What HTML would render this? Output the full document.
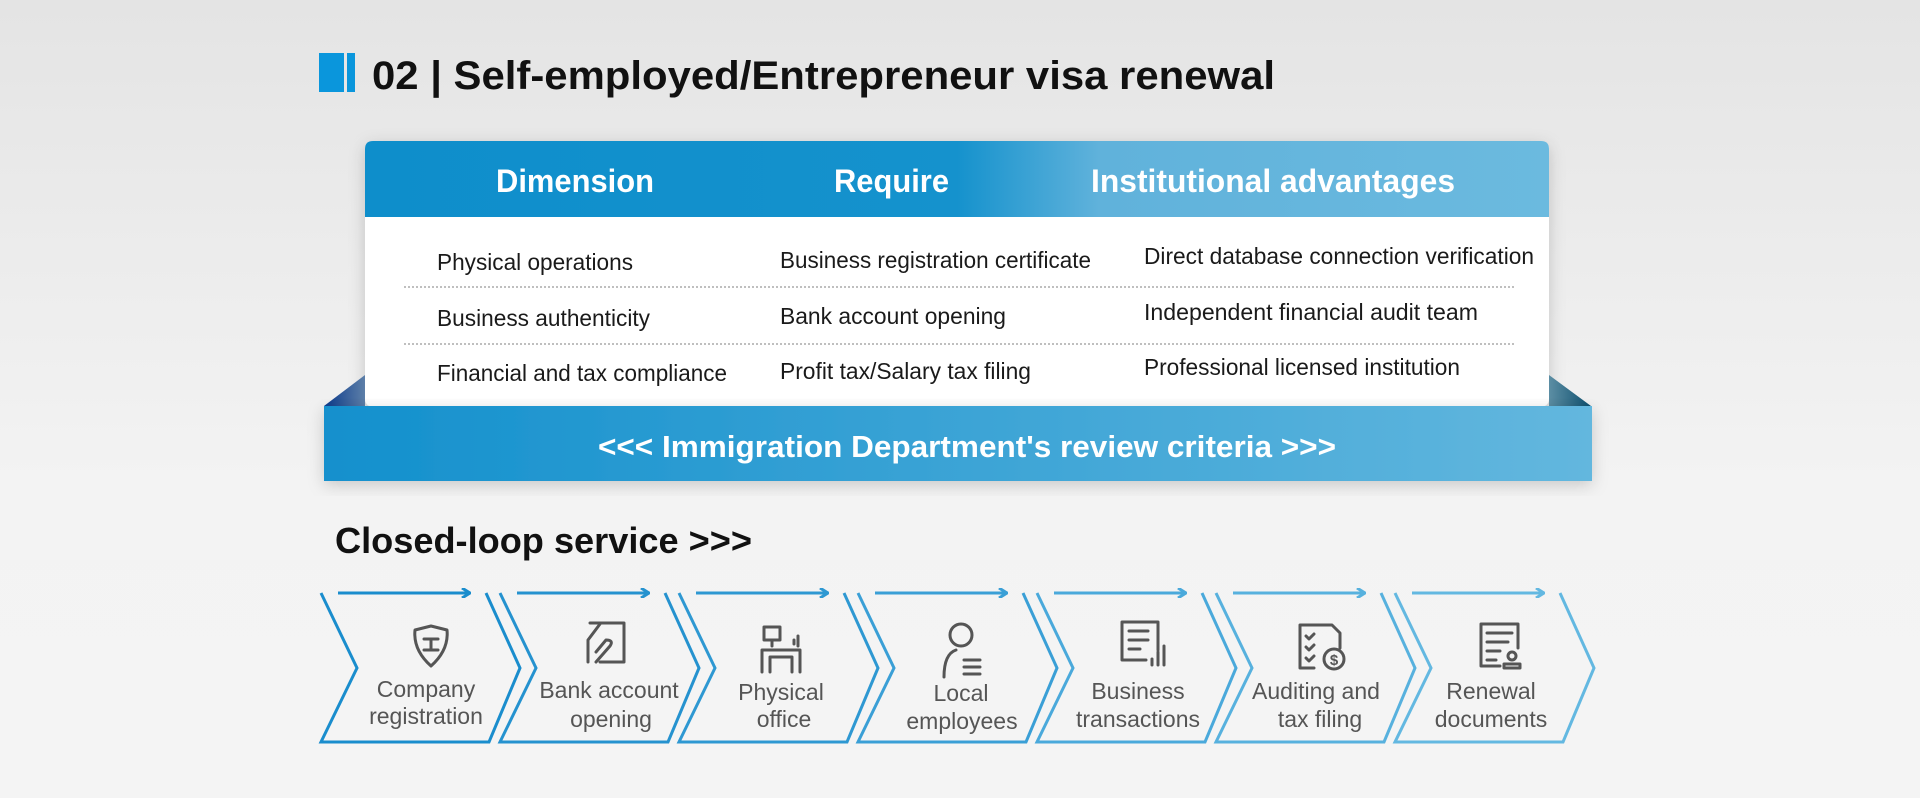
<!DOCTYPE html>
<html><head><meta charset="utf-8"><style>
html,body{margin:0;padding:0}
body{width:1920px;height:798px;overflow:hidden;background:linear-gradient(#e4e4e4,#f3f3f3 60%,#f4f4f4)}
svg{display:block}
text{font-family:"Liberation Sans",sans-serif}
</style></head><body>
<svg width="1920" height="798" viewBox="0 0 1920 798" xmlns="http://www.w3.org/2000/svg">
<defs>
<linearGradient id="hg" x1="0" x2="1" y1="0" y2="0">
<stop offset="0" stop-color="#0e8ecb"/><stop offset="0.5" stop-color="#1592cd"/><stop offset="0.62" stop-color="#60b2db"/><stop offset="1" stop-color="#6bbadf"/>
</linearGradient>
<linearGradient id="bg" x1="0" x2="1"><stop offset="0" stop-color="#1390cd"/><stop offset="1" stop-color="#63b7de"/></linearGradient>
<linearGradient id="tl" x1="0" x2="1"><stop offset="0" stop-color="#0a3a8c"/><stop offset="1" stop-color="#5d7fa8"/></linearGradient>
<linearGradient id="tr" x1="1" x2="0"><stop offset="0" stop-color="#0d4f6e"/><stop offset="1" stop-color="#5c8ea4"/></linearGradient>
<filter id="sh" x="-5%" y="-10%" width="110%" height="130%"><feDropShadow dx="0" dy="4" stdDeviation="8" flood-color="#000" flood-opacity="0.18"/></filter>
<marker id="ah" markerWidth="10" markerHeight="10" refX="8" refY="5" orient="auto" markerUnits="userSpaceOnUse"><path d="M1,0 L9,5 L1,10" fill="none" stroke="context-stroke" stroke-width="3"/></marker>
</defs>

<!-- Title -->
<rect x="319" y="53" width="25" height="39" fill="#0a96dc"/>
<rect x="347" y="53" width="8" height="39" fill="#0a96dc"/>
<text x="372" y="89" font-size="40" font-weight="bold" fill="#111" textLength="903" lengthAdjust="spacingAndGlyphs">02 | Self-employed/Entrepreneur visa renewal</text>

<!-- Table card -->
<g filter="url(#sh)">
<rect x="365" y="141" width="1184" height="266" rx="8" fill="#fff"/>
</g>
<path d="M373,141 H1541 Q1549,141 1549,149 V217 H365 V149 Q365,141 373,141Z" fill="url(#hg)"/>
<text x="496" y="192" font-size="32" font-weight="bold" fill="#fff" textLength="158" lengthAdjust="spacingAndGlyphs">Dimension</text>
<text x="834" y="192" font-size="32" font-weight="bold" fill="#fff" textLength="115" lengthAdjust="spacingAndGlyphs">Require</text>
<text x="1091" y="192" font-size="32" font-weight="bold" fill="#fff" textLength="364" lengthAdjust="spacingAndGlyphs">Institutional advantages</text>

<g font-size="23" fill="#1a1a1a">
<text x="437" y="270" textLength="196" lengthAdjust="spacingAndGlyphs">Physical operations</text>
<text x="780" y="268" textLength="311" lengthAdjust="spacingAndGlyphs">Business registration certificate</text>
<text x="1144" y="264" textLength="390" lengthAdjust="spacingAndGlyphs">Direct database connection verification</text>
<text x="437" y="326" textLength="213" lengthAdjust="spacingAndGlyphs">Business authenticity</text>
<text x="780" y="324" textLength="226" lengthAdjust="spacingAndGlyphs">Bank account opening</text>
<text x="1144" y="320" textLength="334" lengthAdjust="spacingAndGlyphs">Independent financial audit team</text>
<text x="437" y="381" textLength="290" lengthAdjust="spacingAndGlyphs">Financial and tax compliance</text>
<text x="780" y="379" textLength="251" lengthAdjust="spacingAndGlyphs">Profit tax/Salary tax filing</text>
<text x="1144" y="375" textLength="316" lengthAdjust="spacingAndGlyphs">Professional licensed institution</text>
</g>
<line x1="404" y1="287" x2="1516" y2="287" stroke="#999" stroke-width="1.2" stroke-dasharray="2,2"/>
<line x1="404" y1="344" x2="1516" y2="344" stroke="#999" stroke-width="1.2" stroke-dasharray="2,2"/>

<!-- Banner -->
<path d="M324,406 L365,375 L365,406Z" fill="url(#tl)"/>
<path d="M1591,406 L1549,375 L1549,406Z" fill="url(#tr)"/>
<g filter="url(#sh)"><rect x="324" y="406" width="1268" height="75" fill="url(#bg)"/></g>
<text x="598" y="457" font-size="31" font-weight="bold" fill="#fff" textLength="738" lengthAdjust="spacingAndGlyphs">&lt;&lt;&lt; Immigration Department's review criteria &gt;&gt;&gt;</text>

<!-- Closed loop -->
<text x="335" y="553" font-size="36" font-weight="bold" fill="#111" textLength="417" lengthAdjust="spacingAndGlyphs">Closed-loop service &gt;&gt;&gt;</text>

<g fill="none" stroke-width="3" stroke-linejoin="miter">
<g stroke="#1a8dcd"><path d="M321,593 L357,668 L321,742 H489 L520,668 L486,593"/><line x1="338" y1="593" x2="469" y2="593" marker-end="url(#ah)"/></g>
<g stroke="#2592cf" transform="translate(179,0)"><path d="M321,593 L357,668 L321,742 H489 L520,668 L486,593"/><line x1="338" y1="593" x2="469" y2="593" marker-end="url(#ah)"/></g>
<g stroke="#2e98d2" transform="translate(358,0)"><path d="M321,593 L357,668 L321,742 H489 L520,668 L486,593"/><line x1="338" y1="593" x2="469" y2="593" marker-end="url(#ah)"/></g>
<g stroke="#3a9fd6" transform="translate(537,0)"><path d="M321,593 L357,668 L321,742 H489 L520,668 L486,593"/><line x1="338" y1="593" x2="469" y2="593" marker-end="url(#ah)"/></g>
<g stroke="#4aa9db" transform="translate(716,0)"><path d="M321,593 L357,668 L321,742 H489 L520,668 L486,593"/><line x1="338" y1="593" x2="469" y2="593" marker-end="url(#ah)"/></g>
<g stroke="#57b1de" transform="translate(895,0)"><path d="M321,593 L357,668 L321,742 H489 L520,668 L486,593"/><line x1="338" y1="593" x2="469" y2="593" marker-end="url(#ah)"/></g>
<g stroke="#63b8e1" transform="translate(1074,0)"><path d="M321,593 L357,668 L321,742 H489 L520,668 L486,593"/><line x1="338" y1="593" x2="469" y2="593" marker-end="url(#ah)"/></g>
</g>

<!-- Icons -->
<g fill="none" stroke="#555" stroke-width="3" stroke-linecap="round" stroke-linejoin="round">
<!-- shield -->
<path d="M431,626 L447,630 Q449,650 431,666 Q413,650 415,630Z"/><path d="M424,639 H438 M431,639 V650 M424,650 H438"/>
<!-- card/hand -->
<path d="M590,623 H624 V662 H600"/><path d="M588,662 V640 L600,624"/><path d="M596,662 L610,646 Q614,640 606,640 L596,652"/>
<!-- desk -->
<path d="M764,627 H780 V640 H764Z M772,640 V646"/><path d="M762,672 V650 H800 V672 M770,672 V657 H792 V672"/><path d="M794,644 V640 M798,646 V636"/>
<!-- person -->
<circle cx="961" cy="635" r="11"/><path d="M944,677 Q944,654 956,650"/><path d="M964,660 H980 M964,667 H980 M964,674 H980"/>
<!-- doc chart -->
<path d="M1146,660 H1122 V622 H1158 V650"/><path d="M1129,631 H1148 M1129,640 H1148 M1129,649 H1140"/><path d="M1152,665 V659 M1158,665 V652 M1164,665 V646"/>
<!-- doc $ -->
<path d="M1314,668 H1300 V625 H1332 L1340,633 V648"/><path d="M1306,636 l3,3 l5,-5 M1306,647 l3,3 l5,-5 M1306,658 l3,3 l5,-5"/><circle cx="1334" cy="659" r="10"/><text x="1334" y="665" font-size="15" fill="#555" stroke="none" text-anchor="middle" font-weight="bold">$</text>
<!-- doc stamp -->
<path d="M1500,666 H1481 V624 H1518 V648"/><path d="M1487,633 H1512 M1487,642 H1508 M1487,651 H1500 M1487,660 H1496"/><circle cx="1512" cy="656" r="4"/><path d="M1504,668 H1520 V664 H1504Z"/>
</g>

<!-- Labels -->
<g font-size="23" fill="#555" text-anchor="middle">
<text x="426" y="697">Company</text><text x="426" y="724">registration</text>
<text x="609" y="698">Bank account</text><text x="611" y="727">opening</text>
<text x="781" y="700">Physical</text><text x="784" y="727">office</text>
<text x="961" y="701">Local</text><text x="962" y="729">employees</text>
<text x="1138" y="699">Business</text><text x="1138" y="727">transactions</text>
<text x="1316" y="699">Auditing and</text><text x="1320" y="727">tax filing</text>
<text x="1491" y="699">Renewal</text><text x="1491" y="727">documents</text>
</g>
</svg>
</body></html>
